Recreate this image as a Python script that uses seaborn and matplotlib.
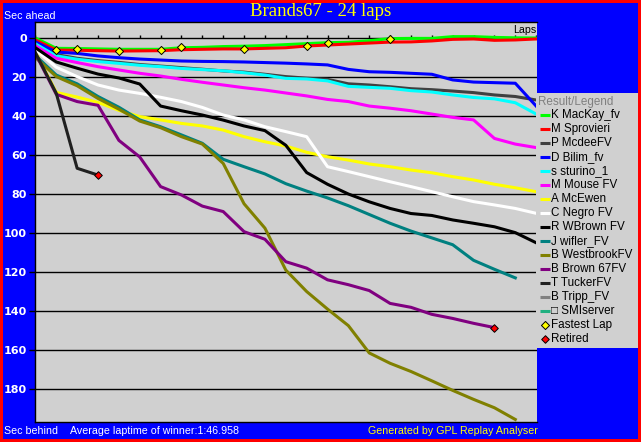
"""Race gap chart: seconds ahead/behind the winner's average pace, lap by lap."""

import matplotlib
matplotlib.use("Agg")
import matplotlib.pyplot as plt
import pandas as pd
import seaborn as sns

TITLE = "Brands67 - 24 laps"
FOOTER = "Average laptime of winner:1:46.958"
CREDIT = "Generated by GPL Replay Analyser"

DRIVERS = ["K MacKay_fv", "M Sprovieri", "P McdeeFV", "D Bilim_fv", "s sturino_1",
           "M Mouse FV", "A McEwen", "C Negro FV", "R WBrown FV", "J wifler_FV",
           "B WestbrookFV", "B Brown 67FV", "T TuckerFV", "B Tripp_FV", "\u25a1 SMIserver"]
COLORS = ["#00FF00", "#FF0000", "#404040", "#0000FF", "#00FFFF",
          "#FF00FF", "#FFFF00", "#FFFFFF", "#000000", "#008080",
          "#808000", "#800080", "#202020", "#808080", "#20B080"]

# gap to the winner's average pace (seconds), one value per lap starting at lap 0
mackay = [0.0, 5.3, 5.4, 5.6, 5.8, 5.8, 5.8, 5.0, 4.8, 4.4, 4.2, 3.9, 3.4, 2.9, 2.4,
          2.2, 1.4, 0.3, 0.2, 0.2, -0.7, -0.7, -0.3, -0.1, 0.0]
sprovieri = [1.0, 6.2, 6.3, 6.5, 6.7, 6.6, 6.5, 6.0, 5.8, 5.6, 5.6, 5.3, 5.0, 4.1, 3.6,
             3.1, 2.6, 2.1, 2.0, 1.5, 0.7, 0.5, 1.2, 1.0, 0.5]
mcdee = [2.5, 8.5, 10.4, 11.6, 12.5, 13.6, 14.4, 15.2, 16.0, 16.9, 17.5, 18.6, 19.8,
         20.6, 21.2, 23.5, 24.1, 25.0, 26.0, 26.5, 27.2, 28.0, 29.2, 30.0, 31.8]
bilim = [2.0, 7.2, 7.9, 9.2, 10.1, 10.8, 11.3, 11.8, 12.0, 12.1, 12.3, 12.6, 12.9,
         13.3, 13.8, 16.1, 17.3, 17.6, 18.1, 18.6, 21.5, 22.6, 22.9, 23.2, 34.9]
sturino = [3.0, 9.2, 10.9, 12.1, 13.0, 14.0, 14.7, 15.6, 16.2, 16.8, 17.8, 19.0, 20.7,
           21.0, 22.0, 24.8, 25.3, 25.8, 27.0, 27.7, 29.2, 30.5, 31.2, 33.2, 39.0]
mouse = [4.0, 10.4, 12.6, 14.7, 16.4, 18.1, 19.5, 21.2, 22.7, 24.1, 25.5, 26.7, 28.2,
         29.7, 31.5, 32.6, 34.9, 36.0, 37.3, 39.0, 40.7, 42.0, 51.5, 54.4, 56.2]
mcewen = [7.0, 27.9, 30.3, 33.0, 37.1, 40.3, 42.0, 43.8, 45.1, 47.2, 50.6, 53.2, 55.4,
          58.6, 60.9, 62.6, 64.6, 66.0, 67.7, 69.1, 71.1, 72.8, 75.0, 76.8, 78.8]
negro = [6.0, 15.0, 19.8, 24.1, 26.7, 28.4, 30.4, 32.6, 35.6, 39.5, 42.0, 45.5, 48.0,
         50.6, 66.0, 68.5, 71.1, 73.7, 76.2, 78.8, 81.4, 83.9, 85.6, 87.4, 89.9]
wbrown = [5.0, 12.3, 15.5, 18.5, 20.5, 23.6, 34.9, 37.3, 39.5, 42.1, 45.1, 47.5, 55.0,
          69.0, 75.0, 80.0, 84.0, 87.4, 90.0, 91.0, 93.3, 95.0, 96.8, 99.8, 105.0]
wifler = [9.0, 19.0, 23.5, 30.0, 35.5, 42.0, 45.5, 49.7, 54.0, 62.2, 66.0, 69.7, 74.7,
          78.5, 82.0, 86.0, 90.5, 95.0, 99.0, 102.5, 106.0, 114.0, 118.6, 123.0]
westbrook = [10.0, 19.8, 24.5, 31.0, 36.5, 42.6, 46.0, 50.6, 54.4, 64.3, 85.0, 97.5,
             119.0, 130.0, 139.0, 147.5, 161.5, 166.8, 171.0, 175.8, 180.7, 185.3,
             189.6, 195.6]
brown67 = [8.0, 28.9, 32.6, 34.5, 52.5, 61.0, 76.2, 80.5, 86.2, 89.0, 99.3, 103.2,
           114.7, 118.0, 124.0, 126.5, 129.5, 136.1, 138.1, 141.7, 143.8, 146.3, 148.5]
tucker = [7.5, 28.4, 66.8, 70.3]
tripp = []
smiserver = []

SERIES = [mackay, sprovieri, mcdee, bilim, sturino, mouse, mcewen, negro, wbrown,
          wifler, westbrook, brown67, tucker, tripp, smiserver]

FASTEST_LAPS = [1, 2, 4, 6, 7, 10, 13, 14, 17]
FASTEST_GAPS = [6.2, 5.5, 6.5, 6.0, 4.8, 5.5, 3.9, 2.4, 0.3]
RETIRED_LAPS = [3, 22]
RETIRED_GAPS = [70.3, 148.5]

TOTAL_LAPS = 24
Y_TICKS = list(range(0, 181, 20))

BLUE = "#0000FF"
PANEL = "#D0D0D0"
W, H = 641, 442

rows = [(name, lap, gap) for name, gaps in zip(DRIVERS, SERIES) for lap, gap in enumerate(gaps)]
df = pd.DataFrame(rows, columns=["driver", "lap", "gap"])
palette = dict(zip(DRIVERS, COLORS))
raced = [d for d, s in zip(DRIVERS, SERIES) if s]

fig = plt.figure(figsize=(W / 100, H / 100), dpi=100)
fig.patch.set_facecolor(BLUE)
fig.patch.set_edgecolor("#FF0000")
fig.patch.set_linewidth(3)

ax = fig.add_axes([35 / W, 20 / H, 502 / W, 400 / H])
ax.set_facecolor(PANEL)

sns.lineplot(data=df, x="lap", y="gap", hue="driver", hue_order=raced, palette=palette,
             linewidth=2.2, legend=False, estimator=None, sort=False, ax=ax)
sns.scatterplot(x=FASTEST_LAPS, y=FASTEST_GAPS, marker="D", s=17, color="#FFFF00",
                edgecolor="black", linewidth=0.7, zorder=5, ax=ax)
sns.scatterplot(x=RETIRED_LAPS, y=RETIRED_GAPS, marker="D", s=15, color="#FF0000",
                edgecolor="black", linewidth=0.7, zorder=5, ax=ax)

# lap ticks sitting on the zero line
ax.vlines(range(TOTAL_LAPS + 1), -1.6, 0, color="black", linewidth=1, zorder=1)

ax.set_xlim(-0.02, TOTAL_LAPS + 0.04)
ax.set_ylim(196.9, -8.2)
ax.set_xticks([])
ax.set_yticks(Y_TICKS)
ax.yaxis.grid(True, color="black", linewidth=1)
ax.set_axisbelow(True)
ax.set_xlabel("")
ax.set_ylabel("")
ax.tick_params(axis="y", direction="out", length=4, width=1, color="black",
               labelcolor="white", labelsize=8, pad=2)
for lbl in ax.get_yticklabels():
    lbl.set_fontweight("bold")
for side in ["left", "top", "bottom"]:
    ax.spines[side].set_color("black")
    ax.spines[side].set_linewidth(1)
ax.spines["right"].set_visible(False)

fig.text(321 / W, 1 - 12 / H, TITLE, color="#FFFF00", family="Liberation Serif",
         fontsize=13.5, ha="center", va="center")
small = dict(family="Liberation Sans", fontsize=7.7, va="center")
fig.text(4 / W, 1 - 16 / H, "Sec ahead", color="white", ha="left", **small)
fig.text(4 / W, 1 - 431 / H, "Sec behind", color="white", ha="left", **small)
fig.text(70 / W, 1 - 431 / H, FOOTER, color="white", ha="left", **small)
fig.text(538 / W, 1 - 431 / H, CREDIT, color="#FFFF00", ha="right", **small)
fig.text(536 / W, 1 - 30 / H, "Laps", color="black", ha="right", **small)

# legend panel, drawn in pixel coordinates
lax = fig.add_axes([536 / W, (H - 348) / H, 102 / W, 255 / H])
lax.set_facecolor(PANEL)
lax.set_xlim(536, 638)
lax.set_ylim(348, 93)
lax.set_xticks([])
lax.set_yticks([])
for sp in lax.spines.values():
    sp.set_visible(False)
leg_font = dict(family="Liberation Sans", fontsize=8.4, va="center", ha="left")
lax.text(538, 101.5, "Result/Legend", color="#808080", **leg_font)
for i, (name, col) in enumerate(zip(DRIVERS, COLORS)):
    y = 115 + 14 * i
    lax.plot([540, 550], [y, y], color=col, linewidth=2.2, solid_capstyle="butt")
    lax.text(551, y, name, color="black", **leg_font)
y_fl = 115 + 14 * len(DRIVERS)
lax.scatter([544.5], [y_fl], marker="D", s=17, color="#FFFF00", edgecolor="black", linewidth=0.7)
lax.text(551, y_fl, "Fastest Lap", color="black", **leg_font)
lax.scatter([544.5], [y_fl + 14], marker="D", s=15, color="#FF0000", edgecolor="black", linewidth=0.7)
lax.text(551, y_fl + 14, "Retired", color="black", **leg_font)

fig.savefig("out.png", dpi=100, facecolor=fig.get_facecolor(), edgecolor=fig.get_edgecolor())
